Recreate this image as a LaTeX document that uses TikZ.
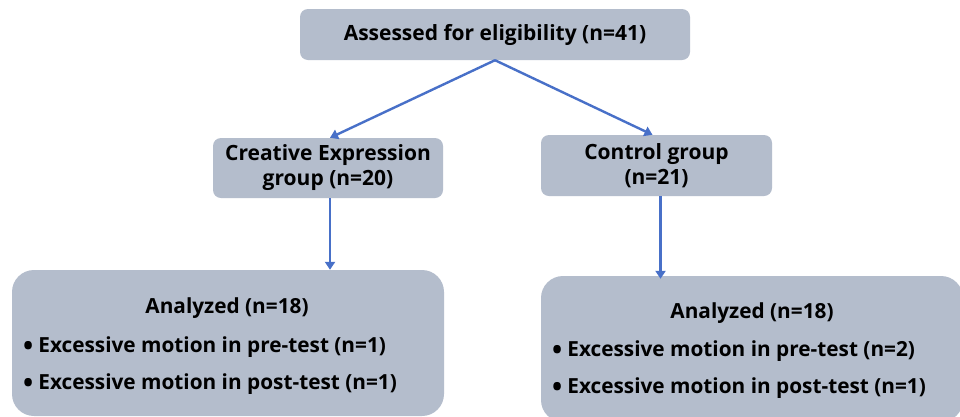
\documentclass[tikz,border=0pt]{standalone}
\usepackage{fontspec}
\setmainfont{Open Sans}
\usetikzlibrary{arrows.meta}
\definecolor{boxfill}{RGB}{180,189,204}
\definecolor{arrowblue}{RGB}{72,112,200}
\newcommand{\bul}{\raisebox{-3pt}{\fontsize{27}{27}\selectfont •}\hspace{5pt}}
\tikzset{
  box/.style={fill=boxfill, draw=none, rounded corners=8pt, align=center, inner sep=0pt, font=\fontsize{21}{25}\selectfont\bfseries},
  bigbox/.style={fill=boxfill, draw=none, rounded corners=22pt, inner sep=0pt},
  txt/.style={inner sep=0pt, font=\fontsize{20.8}{24}\selectfont\bfseries},
  conn/.style={arrowblue, line width=2.4pt, -{Triangle[width=10pt,length=8pt]}}
}
\begin{document}
\begin{tikzpicture}[x=1pt,y=-1pt]
\useasboundingbox[fill=white] (0,0) rectangle (960,416);
\node[box, minimum width=390pt, minimum height=51pt] (top) at (495,34.5) {Assessed for eligibility (n=41)};
\node[box, minimum width=230pt, minimum height=60pt] (cre) at (328,168) {Creative Expression\\group (n=20)};
\node[box, minimum width=231pt, minimum height=61pt] (con) at (656.5,165.5) {Control group\\(n=21)};
\node[bigbox, minimum width=432pt, minimum height=146pt] (bl) at (228,343) {};
\node[bigbox, minimum width=422pt, minimum height=146pt] (br) at (752,349) {};
\node[txt] (bla) at (227,308) {Analyzed (n=18)};
\node[txt, anchor=west] (blb) at (23,347) {\bul Excessive motion in pre-test (n=1)};
\node[txt, anchor=west] (blc) at (23,384) {\bul Excessive motion in post-test (n=1)};
\node[txt] (bra) at (752,313) {Analyzed (n=18)};
\node[txt, anchor=west] (brb) at (552,351) {\bul Excessive motion in pre-test (n=2)};
\node[txt, anchor=west] (brc) at (552,388) {\bul Excessive motion in post-test (n=1)};
\draw[conn] (top.south) -- ([xshift=2pt]cre.north);
\draw[conn] (top.south) -- ([xshift=-4pt]con.north);
\draw[conn] ([xshift=2pt]cre.south) -- ([xshift=2pt]cre.south |- bl.north);
\draw[conn] ([xshift=4pt]con.south) -- ([xshift=4pt,yshift=-3pt]con.south |- br.north);
\end{tikzpicture}
\end{document}
